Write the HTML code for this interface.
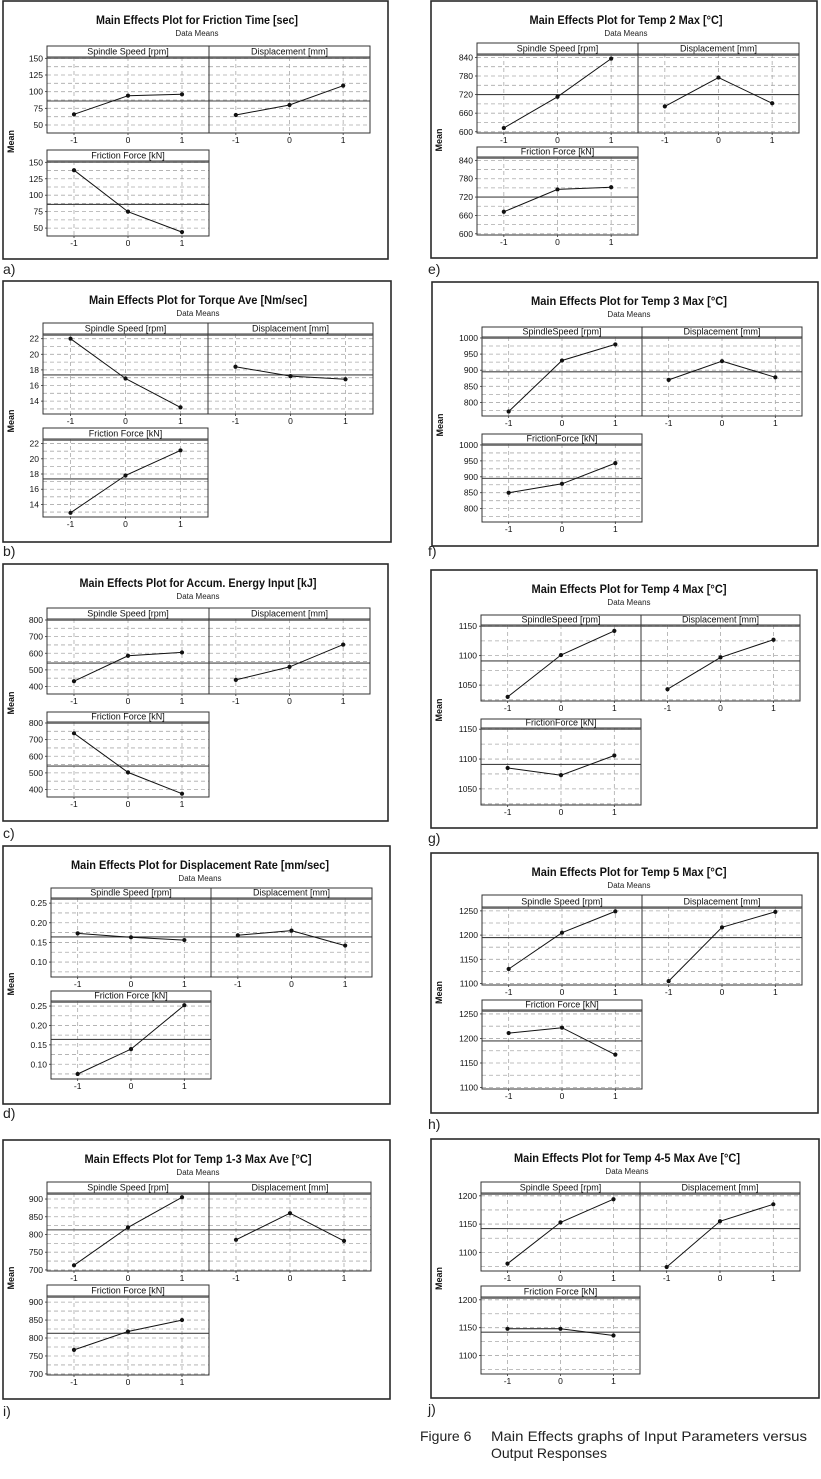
<!DOCTYPE html>
<html><head><meta charset="utf-8"><style>
html,body{margin:0;padding:0;background:#fff;}
svg{display:block;font-family:"Liberation Sans",sans-serif;}
</style></head><body>
<svg id="fig" xmlns="http://www.w3.org/2000/svg" width="821" height="1479" viewBox="0 0 821 1479">
<text x="420" y="1441" font-size="14" fill="#222">Figure 6</text>
<text x="491" y="1441" font-size="14" fill="#222" textLength="316" lengthAdjust="spacingAndGlyphs">Main Effects graphs of Input Parameters versus</text>
<text x="491" y="1458" font-size="14" fill="#222">Output Responses</text>
</svg>
<script>
// ---- data (means at levels -1, 0, 1) ----
const levels = [-1, 0, 1];
const aSpindle = [66, 94, 96], aDisp = [65, 80, 109], aForce = [138, 75, 44], aMean = 86, aTicks = [50, 75, 100, 125, 150];
const bSpindle = [22.0, 16.9, 13.2], bDisp = [18.4, 17.2, 16.8], bForce = [12.9, 17.8, 21.1], bMean = 17.35, bTicks = [14, 16, 18, 20, 22];
const cSpindle = [432, 585, 605], cDisp = [440, 518, 652], cForce = [738, 503, 375], cMean = 541, cTicks = [400, 500, 600, 700, 800];
const dSpindle = [0.173, 0.163, 0.156], dDisp = [0.168, 0.180, 0.142], dForce = [0.075, 0.139, 0.252], dMean = 0.164, dTicks = [0.10, 0.15, 0.20, 0.25];
const iSpindle = [713, 820, 905], iDisp = [785, 860, 782], iForce = [767, 818, 850], iMean = 813, iTicks = [700, 750, 800, 850, 900];
const eSpindle = [612, 713, 836], eDisp = [682, 775, 692], eForce = [672, 745, 752], eMean = 720, eTicks = [600, 660, 720, 780, 840];
const fSpindle = [772, 930, 980], fDisp = [870, 928, 878], fForce = [850, 878, 943], fMean = 895, fTicks = [800, 850, 900, 950, 1000];
const gSpindle = [1030, 1101, 1142], gDisp = [1043, 1097, 1127], gForce = [1085, 1073, 1106], gMean = 1091, gTicks = [1050, 1100, 1150];
const hSpindle = [1130, 1205, 1249], hDisp = [1105, 1216, 1248], hForce = [1211, 1222, 1167], hMean = 1195, hTicks = [1100, 1150, 1200, 1250];
const jSpindle = [1080, 1153, 1194], jDisp = [1074, 1155, 1185], jForce = [1148, 1148, 1136], jMean = 1142, jTicks = [1100, 1150, 1200];

const titles = {
 a:"Main Effects Plot for Friction Time [sec]", b:"Main Effects Plot for Torque Ave [Nm/sec]",
 c:"Main Effects Plot for Accum. Energy Input [kJ]", d:"Main Effects Plot for Displacement Rate [mm/sec]",
 i:"Main Effects Plot for Temp 1-3 Max Ave [°C]", e:"Main Effects Plot for Temp 2 Max [°C]",
 f:"Main Effects Plot for Temp 3 Max [°C]", g:"Main Effects Plot for Temp 4 Max [°C]",
 h:"Main Effects Plot for Temp 5 Max [°C]", j:"Main Effects Plot for Temp 4-5 Max Ave [°C]"};

// ---- layout (pixel geometry, not data) ----
const panels = [
 {id:"a",box:[3,1,388,259],L:47,M:209,R:370,HT:46,HB:57,PB:133,BT:150,BHB:161,BB:236,dom:[38,152],step:12.5,tw:202,tc:197,lab:[3,274],s:aSpindle,d:aDisp,f:aForce,m:aMean,t:aTicks,dec:0,h:["Spindle  Speed [rpm]","Displacement  [mm]","Friction Force [kN]"]},
 {id:"b",box:[3,281,391,542],L:43,M:208,R:373,HT:323,HB:334,PB:414,BT:428,BHB:439,BB:517,dom:[12.35,22.6],step:1,tw:218,tc:198,lab:[3,556],s:bSpindle,d:bDisp,f:bForce,m:bMean,t:bTicks,dec:0,h:["Spindle  Speed [rpm]","Displacement  [mm]","Friction Force [kN]"]},
 {id:"c",box:[3,564,388,821],L:47,M:209,R:370,HT:608,HB:619,PB:694,BT:712,BHB:722,BB:797,dom:[355,806],step:50,tw:237,tc:198,lab:[3,838],s:cSpindle,d:cDisp,f:cForce,m:cMean,t:cTicks,dec:0,h:["Spindle  Speed [rpm]","Displacement  [mm]","Friction Force [kN]"]},
 {id:"d",box:[3,846,390,1104],L:51,M:211,R:372,HT:888,HB:898,PB:977,BT:991,BHB:1001,BB:1079,dom:[0.062,0.263],step:0.025,tw:258,tc:200,lab:[3,1118],s:dSpindle,d:dDisp,f:dForce,m:dMean,t:dTicks,dec:2,h:["Spindle  Speed [rpm]","Displacement  [mm]","Friction  Force [kN]"]},
 {id:"i",box:[3,1140,390,1399],L:47,M:209,R:371,HT:1182,HB:1193,PB:1271,BT:1285,BHB:1296,BB:1375,dom:[697,917],step:25,tw:227,tc:198,lab:[3,1416],s:iSpindle,d:iDisp,f:iForce,m:iMean,t:iTicks,dec:0,h:["Spindle  Speed [rpm]","Displacement  [mm]","Friction Force [kN]"]},
 {id:"e",box:[431,1,817,258],L:477,M:638,R:799,HT:43,HB:54,PB:133,BT:147,BHB:157,BB:235,dom:[596,851],step:30,tw:193,tc:626,lab:[428,274],s:eSpindle,d:eDisp,f:eForce,m:eMean,t:eTicks,dec:0,h:["Spindle  Speed [rpm]","Displacement  [mm]","Friction Force [kN]"]},
 {id:"f",box:[432,282,818,546],L:482,M:642,R:802,HT:327,HB:337,PB:416,BT:434,BHB:444,BB:522,dom:[758,1003],step:25,tw:196,tc:629,lab:[428,556],s:fSpindle,d:fDisp,f:fForce,m:fMean,t:fTicks,dec:0,h:["SpindleSpeed [rpm]","Displacement [mm]","FrictionForce [kN]"]},
 {id:"g",box:[431,570,817,828],L:481,M:641,R:800,HT:615,HB:625,PB:701,BT:719,BHB:728,BB:805,dom:[1023,1152],step:25,tw:195,tc:629,lab:[428,843],s:gSpindle,d:gDisp,f:gForce,m:gMean,t:gTicks,dec:0,h:["SpindleSpeed [rpm]","Displacement [mm]","FrictionForce [kN]"]},
 {id:"h",box:[431,853,818,1113],L:482,M:642,R:802,HT:895,HB:907,PB:985,BT:1000,BHB:1010,BB:1089,dom:[1097,1258],step:25,tw:195,tc:629,lab:[428,1129],s:hSpindle,d:hDisp,f:hForce,m:hMean,t:hTicks,dec:0,h:["Spindle  Speed [rpm]","Displacement  [mm]","Friction Force [kN]"]},
 {id:"j",box:[431,1139,819,1398],L:481,M:640,R:800,HT:1182,HB:1193,PB:1271,BT:1286,BHB:1297,BB:1374,dom:[1067,1205],step:25,tw:226,tc:627,lab:[428,1414],s:jSpindle,d:jDisp,f:jForce,m:jMean,t:jTicks,dec:0,h:["Spindle  Speed [rpm]","Displacement  [mm]","Friction Force [kN]"]}
];

const NS = "http://www.w3.org/2000/svg";
const svg = document.getElementById("fig");
function mk(parent, tag, attrs, txt){
  const el = document.createElementNS(NS, tag);
  for (const k in attrs) el.setAttribute(k, attrs[k]);
  if (txt !== undefined) el.textContent = txt;
  parent.appendChild(el);
  return el;
}

panels.forEach(p => {
  const g = mk(svg, "g", {});
  
  
  const [bx0, by0, bx1, by1] = p.box;
  const box = mk(g, "rect", {x:bx0, y:by0, width:bx1-bx0, height:by1-by0, fill:"#fff", stroke:"#2a2a2a", "stroke-width":1.6});
  
  
  const tt = mk(g, "text", {x:p.tc, y:by0+23, "text-anchor":"middle", "font-size":11.5, "font-weight":"bold", fill:"#111", textLength:p.tw, lengthAdjust:"spacingAndGlyphs"}, titles[p.id]);
  
  
  const st = mk(g, "text", {x:p.tc, y:by0+35, "text-anchor":"middle", "font-size":8, fill:"#222"}, "Data Means");
  
  
  const lb = mk(svg, "text", {x:p.lab[0], y:p.lab[1], "font-size":14, fill:"#222"}, p.id + ")");
  
  
  const my = (p.PB + p.BT) / 2;
  const yl = mk(g, "text", {x:0, y:0, transform:"translate(" + (bx0+11) + "," + my + ") rotate(-90)", "text-anchor":"middle", "font-size":9, "font-weight":"bold", fill:"#111"}, "Mean");
  
  

  const subs = [
    {x0:p.L, x1:p.M, top:p.HT, hb:p.HB, bot:p.PB, label:p.h[0], vals:p.s, name:"spindle-speed"},
    {x0:p.M, x1:p.R, top:p.HT, hb:p.HB, bot:p.PB, label:p.h[1], vals:p.d, name:"displacement"},
    {x0:p.L, x1:p.M, top:p.BT, hb:p.BHB, bot:p.BB, label:p.h[2], vals:p.f, name:"friction-force"}
  ];
  subs.forEach(sp => {
    const sg = mk(g, "g", {});
    
    
    const xS = v => sp.x0 + (v + 1.5) / 3 * (sp.x1 - sp.x0);
    const yS = v => sp.hb + (p.dom[1] - v) / (p.dom[1] - p.dom[0]) * (sp.bot - sp.hb);
    // grid horizontal
    const start = Math.ceil(p.dom[0] / p.step - 1e-9);
    for (let k = start; k * p.step <= p.dom[1] + 1e-9; k++) {
      const v = k * p.step, y = yS(v);
      if (y < sp.hb + 1) continue;
      const gl = mk(sg, "line", {x1:sp.x0, x2:sp.x1, y1:y, y2:y, stroke:"#aaa", "stroke-width":0.8, "stroke-dasharray":"4,3"});
      
      
    }
    levels.forEach(lv => {
      const x = xS(lv);
      const vl = mk(sg, "line", {x1:x, x2:x, y1:sp.hb, y2:sp.bot, stroke:"#aaa", "stroke-width":0.8, "stroke-dasharray":"4,3"});
      
      
      const tl = mk(sg, "text", {x:x, y:sp.bot+10, "text-anchor":"middle", "font-size":8.5, fill:"#111"}, String(lv));
      
      
      const tk = mk(sg, "line", {x1:x, x2:x, y1:sp.bot, y2:sp.bot+2, stroke:"#333", "stroke-width":0.8});
      
      
    });
    if (sp.x0 === p.L) {
      p.t.forEach(v => {
        const y = yS(v);
        const yt = mk(sg, "text", {x:sp.x0-4, y:y+3, "text-anchor":"end", "font-size":8.5, fill:"#111"}, v.toFixed(p.dec));
        
        
        const tk = mk(sg, "line", {x1:sp.x0-2, x2:sp.x0, y1:y, y2:y, stroke:"#333", "stroke-width":0.8});
        
        
      });
    }
    // mean line
    const ml = mk(sg, "line", {x1:sp.x0, x2:sp.x1, y1:yS(p.m), y2:yS(p.m), stroke:"#444", "stroke-width":1.1});
    
    
    // series
    const pts = sp.vals.map((v, k) => xS(levels[k]).toFixed(1) + "," + yS(v).toFixed(1)).join(" ");
    const pl = mk(sg, "polyline", {points:pts, fill:"none", stroke:"#111", "stroke-width":1});
    
    
    sp.vals.forEach((v, k) => {
      const c = mk(sg, "circle", {cx:xS(levels[k]), cy:yS(v), r:2.1, fill:"#111"});
      
      
    });
    // frames
    const fr = mk(sg, "rect", {x:sp.x0, y:sp.hb, width:sp.x1-sp.x0, height:sp.bot-sp.hb, fill:"none", stroke:"#333", "stroke-width":1});
    
    
    const hr = mk(sg, "rect", {x:sp.x0, y:sp.top, width:sp.x1-sp.x0, height:sp.hb-sp.top, fill:"#fff", stroke:"#333", "stroke-width":1});
    
    
    const hl = mk(sg, "line", {x1:sp.x0, x2:sp.x1, y1:sp.hb+1.2, y2:sp.hb+1.2, stroke:"#555", "stroke-width":1});
    
    
    const ht = mk(sg, "text", {x:(sp.x0+sp.x1)/2, y:sp.hb-2.5, "text-anchor":"middle", "font-size":9, fill:"#111"}, sp.label);
    
    
  });
});
</script>
</body></html>
